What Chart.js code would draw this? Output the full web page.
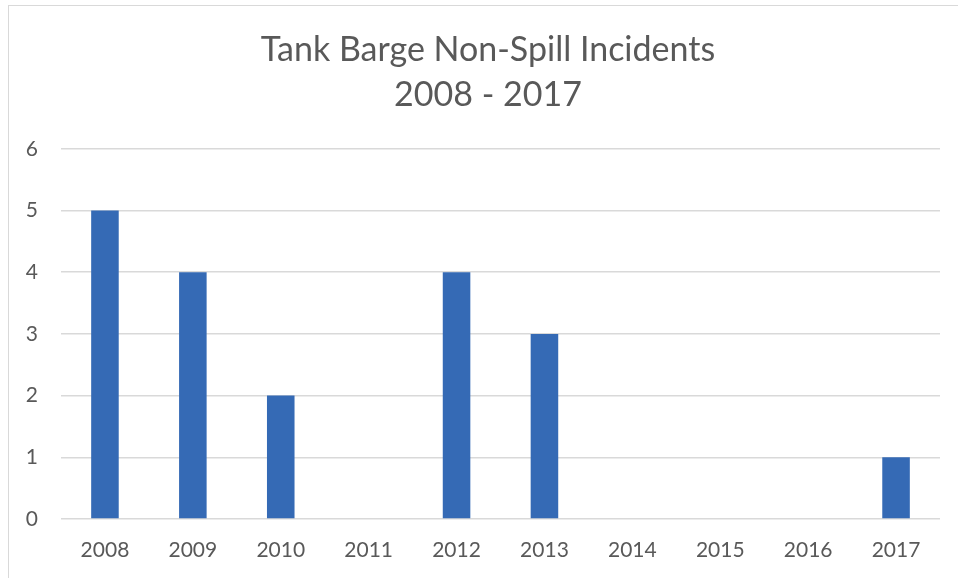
<!DOCTYPE html>
<html>
<head>
<meta charset="utf-8">
<script src="https://cdn.jsdelivr.net/npm/chart.js@4"></script>
<style>
  html, body { margin: 0; padding: 0; background: #fff; }
  #wrap { position: relative; width: 958px; height: 578px; }
  #frame { position: absolute; left: 8px; top: 5px; right: 0; bottom: -10px; border-left: 1px solid #d9d9d9; border-top: 1px solid #d9d9d9; }
  canvas { position: absolute; left: 0; top: 0; }
</style>
</head>
<body>
<div id="wrap">
  <div id="frame"></div>
  <canvas id="chart" width="958" height="578"></canvas>
</div>
<script>
const years = ['2008', '2009', '2010', '2011', '2012', '2013', '2014', '2015', '2016', '2017'];
const incidents = [5, 4, 2, 0, 4, 3, 0, 0, 0, 1];
const titleLines = ['Tank Barge Non-Spill Incidents', '2008 - 2017'];

const textColor = '#595959';
const fontName = 'Lato, "Open Sans", sans-serif';

// the title sits centred over the frame, not over the canvas, so nudge its box
const shiftTitle = {
    id: 'shiftTitle',
    afterLayout(chart) {
        if (chart.titleBlock) {
            chart.titleBlock.left = 36;
            chart.titleBlock.right = 940;
        }
    }
};

const ctx = document.getElementById('chart').getContext('2d');

new Chart(ctx, {
    type: 'bar',
    data: {
        labels: years,
        datasets: [
            {
                label: 'Incidents',
                data: incidents,
                backgroundColor: '#356AB5',
                borderWidth: 0,
                categoryPercentage: 1,
                barPercentage: 0.3135,
            },
        ],
    },
    options: {
        responsive: false,
        animation: false,
        layout: {
            padding: { left: 0, right: 18, top: 0, bottom: 0 }
        },
        scales: {
            x: {
                grid: { display: false },
                border: { display: false },
                ticks: {
                    color: textColor,
                    padding: 11,
                    font: { family: fontName, size: 21 },
                },
                afterFit: (scale) => { scale.height = 59; },
            },
            y: {
                min: 0,
                max: 6,
                border: { display: false },
                grid: {
                    color: '#d9d9d9',
                    lineWidth: 1.5,
                    drawTicks: false,
                },
                ticks: {
                    stepSize: 1,
                    color: textColor,
                    padding: 23,
                    font: { family: fontName, size: 21 },
                },
                afterFit: (scale) => { scale.width = 61; },
            },
        },
        plugins: {
            legend: { display: false },
            tooltip: { enabled: false },
            title: {
                display: true,
                text: titleLines,
                color: textColor,
                font: { family: fontName, size: 34, weight: 'normal', lineHeight: 1.32 },
                padding: { top: 28, bottom: 31 },
            },
        },
    },
    plugins: [shiftTitle],
});
</script>
</body>
</html>
